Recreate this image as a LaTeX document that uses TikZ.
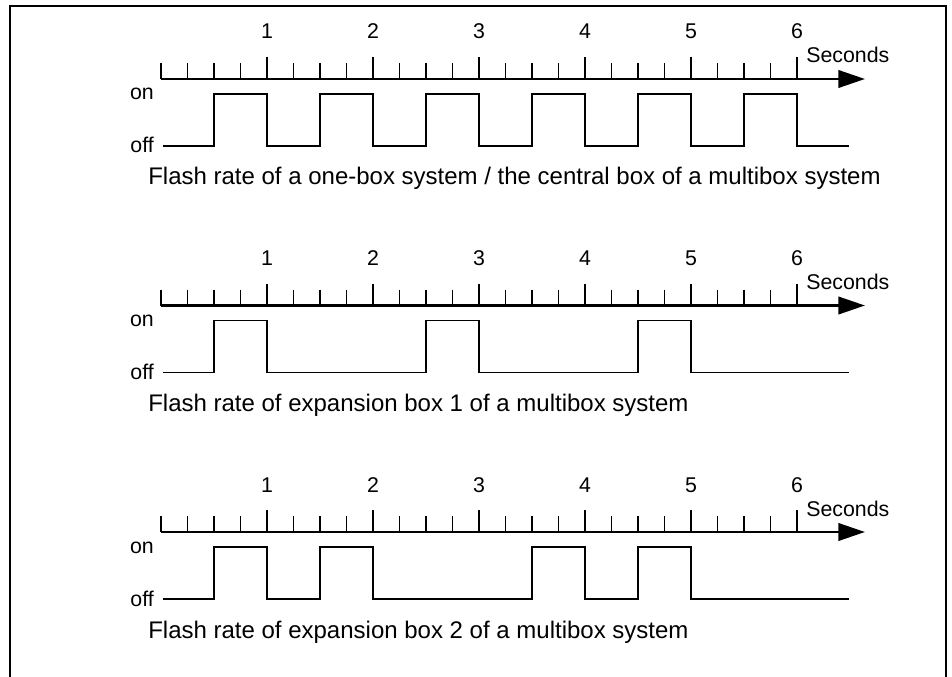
\documentclass[tikz,border=0pt]{standalone}
\usepackage{fontspec}
\setmainfont{Liberation Sans}
\usetikzlibrary{arrows.meta, positioning}
\tikzset{
    frame/.style={draw, line width=1.3pt},
    time axis/.style={draw, line width=2.2pt, -{Triangle[length=20pt, width=13pt]}},
    tick/.style={draw, line width=0.8pt},
    signal/.style={draw, line width=1pt},
    label text/.style={inner sep=0pt, font=\fontsize{16pt}{19pt}\selectfont},
    caption text/.style={inner sep=0pt, font=\fontsize{18pt}{21pt}\selectfont}
}
% one row: #1 name, #2 vertical shift (px), #3 pulse starts (s), #4 caption
\newcommand{\flashrow}[4]{%
    \begin{scope}[shift={(0,#2)}]
        \foreach \k in {1,...,6}
            \node[label text, anchor=base] (num#1\k) at ({161+106*\k},39) {\k};
        \node[label text, anchor=base west] (sec#1) at (806,63) {Seconds};
        \foreach \i in {0,...,23}
            \draw[tick] ({161+26.5*\i},63) -- ++(0,16);
        \foreach \k in {1,...,6}
            \draw[tick] ({161+106*\k},57) -- ++(0,22);
        \draw[time axis] (161,79) -- (865,79);
        \node[label text, anchor=base east] (on#1) at (154,100) {on};
        \node[label text, anchor=base east] (off#1) at (154,153) {off};
        \draw[signal] (163,146)
            \foreach \s in {#3} {
                -- ({161+106*\s},146) -- ({161+106*\s},94)
                -- ({214+106*\s},94) -- ({214+106*\s},146)
            } -- (849,146);
        \node[caption text, anchor=base west] (cap#1) at (148,185) {#4};
    \end{scope}
}

\begin{document}
\begin{tikzpicture}[x=0.75pt, y=-0.75pt]
    \useasboundingbox (0,0) rectangle (952,677);
    \draw[frame] (10,677) -- (10,6) -- (946,6) -- (946,677);

    \flashrow{a}{0}{0.5,1.5,2.5,3.5,4.5,5.5}{Flash rate of a one-box system / the central box of a multibox system}
    \flashrow{b}{226.5}{0.5,2.5,4.5}{Flash rate of expansion box 1 of a multibox system}
    \flashrow{c}{453}{0.5,1.5,3.5,4.5}{Flash rate of expansion box 2 of a multibox system}
\end{tikzpicture}
\end{document}
